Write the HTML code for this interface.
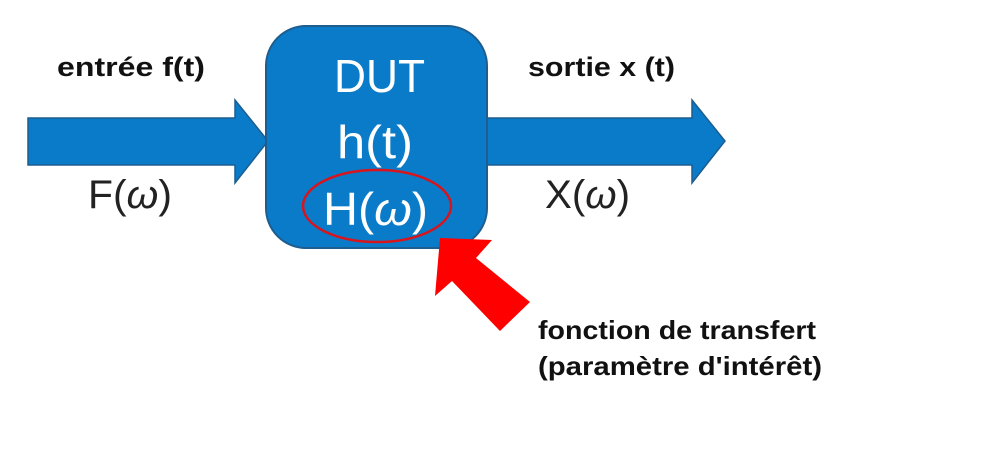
<!DOCTYPE html>
<html><head><meta charset="utf-8"><style>
body{margin:0;background:#fff;}
svg{display:block}
.b{font-family:"Liberation Sans",sans-serif;font-weight:bold;fill:#111;}
.w{font-family:"Liberation Sans",sans-serif;fill:#fff;}
.g{font-family:"Liberation Sans",sans-serif;fill:#222;}
</style></head><body>
<svg width="1000" height="452" viewBox="0 0 1000 452" xmlns="http://www.w3.org/2000/svg">
<rect width="1000" height="452" fill="#fff"/>
<polygon points="28,118 235,118 235,100 268,141 235,183 235,165 28,165" fill="#0a7bc8" stroke="#1d5d8f" stroke-width="1.5"/>
<polygon points="486,118 692,118 692,100 725,141 692,183 692,165 486,165" fill="#0a7bc8" stroke="#1d5d8f" stroke-width="1.5"/>
<rect x="266" y="26" width="221" height="222" rx="40" fill="#0a7bc8" stroke="#1d5d8f" stroke-width="2"/>
<text class="w" x="334" y="92" font-size="46" textLength="91" lengthAdjust="spacingAndGlyphs">DUT</text>
<text class="w" x="337" y="158" font-size="46" textLength="76" lengthAdjust="spacingAndGlyphs">h(t)</text>
<text class="w" x="323" y="225" font-size="46" textLength="105" lengthAdjust="spacingAndGlyphs">H(<tspan font-style="italic">ω</tspan>)</text>
<ellipse cx="377" cy="206" rx="74" ry="36" fill="none" stroke="#d8141c" stroke-width="2.5"/>
<text class="b" x="57" y="76" font-size="27" textLength="148" lengthAdjust="spacingAndGlyphs">entrée f(t)</text>
<text class="b" x="528" y="76" font-size="27" textLength="147" lengthAdjust="spacingAndGlyphs">sortie x (t)</text>
<text class="g" x="88" y="208" font-size="40" textLength="84" lengthAdjust="spacingAndGlyphs">F(<tspan font-style="italic">ω</tspan>)</text>
<text class="g" x="545" y="208" font-size="40" textLength="85" lengthAdjust="spacingAndGlyphs">X(<tspan font-style="italic">ω</tspan>)</text>
<polygon points="440,238 492,240 476,258 530,302 500,331 452,281 435,296" fill="#ff0000"/>
<text class="b" x="538" y="339" font-size="26" textLength="278" lengthAdjust="spacingAndGlyphs">fonction de transfert</text>
<text class="b" x="538" y="375" font-size="26" textLength="284" lengthAdjust="spacingAndGlyphs">(paramètre d'intérêt)</text>
</svg>
</body></html>
